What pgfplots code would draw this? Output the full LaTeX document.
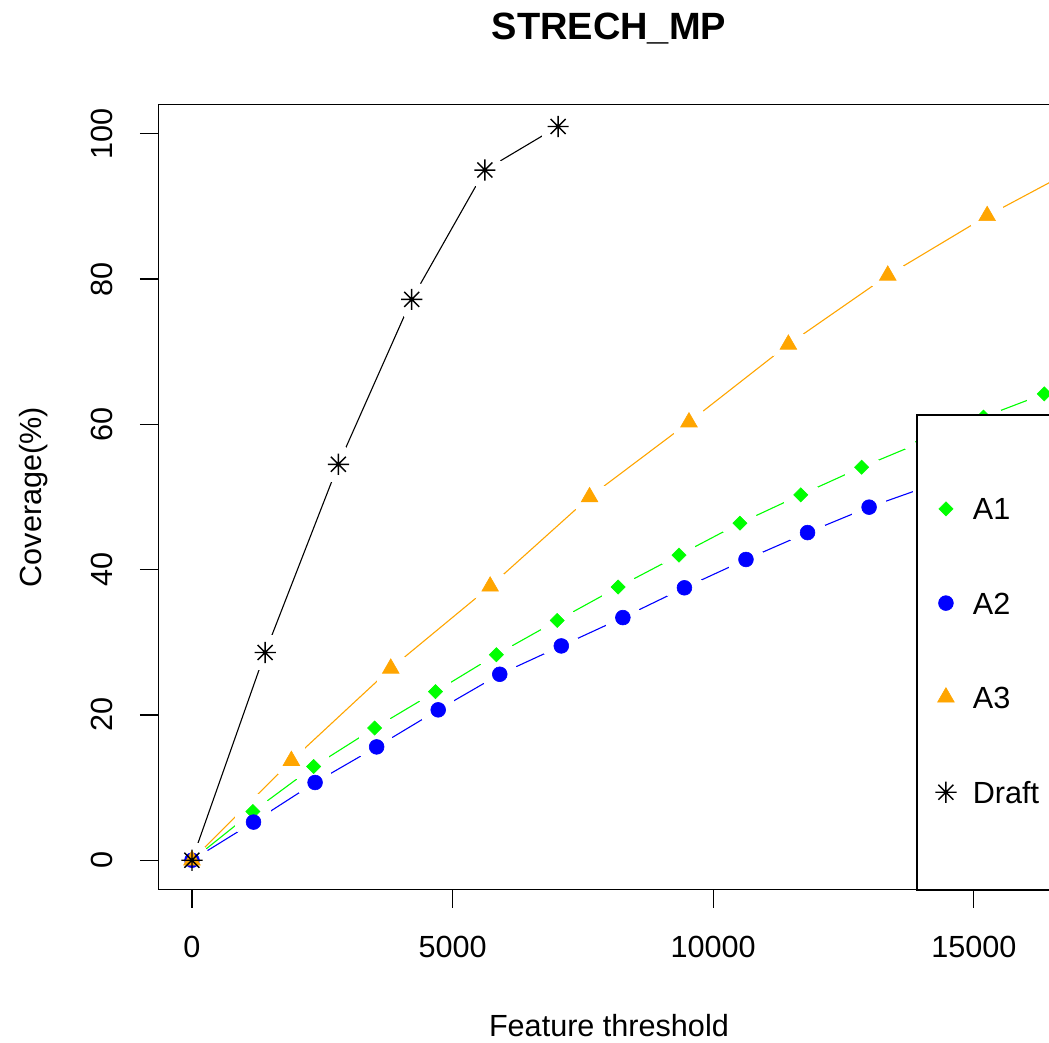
\documentclass[border=0pt]{standalone}
\usepackage{pgfplots}
\pgfplotsset{compat=1.18}
\usepackage{pgfplotstable}
\usepackage{fontspec}
\setmainfont{Liberation Sans}

\definecolor{rgreen}{RGB}{0,255,0}
\definecolor{rblue}{RGB}{0,0,255}
\definecolor{rorange}{RGB}{255,165,0}

\pgfdeclareplotmark{Rstar}{%
  \pgfpathmoveto{\pgfqpoint{-\pgfplotmarksize}{0pt}}\pgfpathlineto{\pgfqpoint{\pgfplotmarksize}{0pt}}%
  \pgfpathmoveto{\pgfqpoint{0pt}{-\pgfplotmarksize}}\pgfpathlineto{\pgfqpoint{0pt}{\pgfplotmarksize}}%
  \pgfpathmoveto{\pgfqpoint{-0.7071\pgfplotmarksize}{-0.7071\pgfplotmarksize}}\pgfpathlineto{\pgfqpoint{0.7071\pgfplotmarksize}{0.7071\pgfplotmarksize}}%
  \pgfpathmoveto{\pgfqpoint{-0.7071\pgfplotmarksize}{0.7071\pgfplotmarksize}}\pgfpathlineto{\pgfqpoint{0.7071\pgfplotmarksize}{-0.7071\pgfplotmarksize}}%
  \pgfusepathqstroke}

\pgfplotsset{legend image code/.code={\path (-6.2pt,0pt) (6.2pt,0pt); \draw[#1] plot coordinates {(0pt,5.5pt)};}}

\pgfplotstableread{
x y
0 0
1168 6.7
2336 12.9
3504 18.2
4672 23.2
5840 28.3
7008 33.0
8176 37.6
9344 42.0
10512 46.4
11680 50.3
12848 54.1
14016 57.6
15184 61.0
16352 64.2
}\Aone

\pgfplotstableread{
x y
0 0
1181 5.25
2362 10.7
3543 15.6
4724 20.7
5905 25.6
7086 29.5
8267 33.4
9448 37.5
10629 41.4
11810 45.1
12991 48.6
14172 51.6
15353 54.8
16534 58.0
}\Atwo

\pgfplotstableread{
x y
0 0
1907 13.7
3814 26.4
5721 37.7
7628 50.0
9535 60.3
11442 71.0
13349 80.5
15256 88.7
17163 96.0
}\Athree

\pgfplotstableread{
x y
0 0
1405 28.6
2810 54.5
4215 77.2
5620 95.0
7025 101.0
}\Draft

\newcommand{\basefont}{\fontsize{15.3}{18}\selectfont}

\begin{document}
\begin{tikzpicture}
\useasboundingbox (0,0) rectangle (524.5pt,521.5pt);
\clip (0,0) rectangle (524.5pt,521.5pt);
\begin{axis}[
  at={(79.3pt,76.85pt)}, anchor=south west,
  scale only axis, width=450.35pt, height=392.3pt,
  xmin=-640, xmax=16640, ymin=-4, ymax=104,
  xtick={0,5000,10000,15000}, ytick={0,20,40,60,80,100},
  tick align=outside, xtick pos=left, ytick pos=left,
  major tick length=9.3pt,
  tick style={black, line width=0.6pt},
  axis line style={black, line width=0.6pt},
  scaled ticks=false,
  /pgf/number format/1000 sep={},
  /pgf/number format/assume math mode=true,
  xticklabel style={font=\basefont, inner sep=0pt, anchor=north},
  yticklabel style={font=\basefont, inner sep=0pt, rotate=90, anchor=south},
  xticklabel shift=13.9pt,
  yticklabel shift=13.6pt,
  title={STRECH\_MP},
  every axis title/.style={at={(axis description cs:0.5,1.0825)}, anchor=base, font=\bfseries\fontsize{19}{22}\selectfont},
  xlabel={Feature threshold},
  ylabel={Coverage(\%)},
  every axis x label/.style={at={(axis description cs:0.5,-0.187)}, anchor=base, font=\basefont},
  every axis y label/.style={at={(axis description cs:-0.1295,0.5)}, rotate=90, anchor=base, font=\basefont},
  legend style={at={(axis description cs:0.8406,0.6058)}, anchor=north west, draw=black, line width=0.9pt, fill=white,
    inner xsep=8pt, inner ysep=40pt, row sep=30.9pt, column sep=4.8pt, font=\basefont,
    cells={anchor=base west}},
]
% lines
\addplot[rgreen, line width=0.55pt, no markers, forget plot] table {\Aone};
\addplot[rblue, line width=0.55pt, no markers, forget plot] table {\Atwo};
\addplot[rorange, line width=0.55pt, no markers, forget plot] table {\Athree};
\addplot[black, line width=0.55pt, no markers, forget plot] table {\Draft};
% gaps around points
\addplot[only marks, mark=*, mark size=9pt, mark options={draw=white, fill=white, line width=0pt}, forget plot] table {\Aone};
\addplot[only marks, mark=*, mark size=9pt, mark options={draw=white, fill=white, line width=0pt}, forget plot] table {\Atwo};
\addplot[only marks, mark=*, mark size=9pt, mark options={draw=white, fill=white, line width=0pt}, forget plot] table {\Athree};
\addplot[only marks, mark=*, mark size=9pt, mark options={draw=white, fill=white, line width=0pt}, forget plot] table {\Draft};
% markers
\addplot[only marks, mark=square*, mark size=2.5pt, mark options={rotate=45, fill=rgreen, draw=rgreen, line width=0.3pt}, forget plot] table {\Aone};
\addplot[only marks, mark=*, mark size=3.7pt, mark options={fill=rblue, draw=rblue, line width=0.3pt}, forget plot] table {\Atwo};
\addplot[only marks, mark=triangle*, mark size=4.8pt, mark options={fill=rorange, draw=rorange, line width=0.3pt}, forget plot] table {\Athree};
\addplot[only marks, mark=Rstar, mark size=5.3pt, mark options={draw=black, line width=0.7pt}, forget plot] table {\Draft};
% legend
\addlegendimage{mark=square*, mark size=2.5pt, mark options={rotate=45, fill=rgreen, draw=rgreen, line width=0.3pt}}
\addlegendentry{A1}
\addlegendimage{mark=*, mark size=3.7pt, mark options={fill=rblue, draw=rblue, line width=0.3pt}}
\addlegendentry{A2}
\addlegendimage{mark=triangle*, mark size=4.8pt, mark options={fill=rorange, draw=rorange, line width=0.3pt}}
\addlegendentry{A3}
\addlegendimage{mark=Rstar, mark size=5.3pt, mark options={draw=black, line width=0.7pt}}
\addlegendentry{Draft}
\end{axis}
\end{tikzpicture}
\end{document}
